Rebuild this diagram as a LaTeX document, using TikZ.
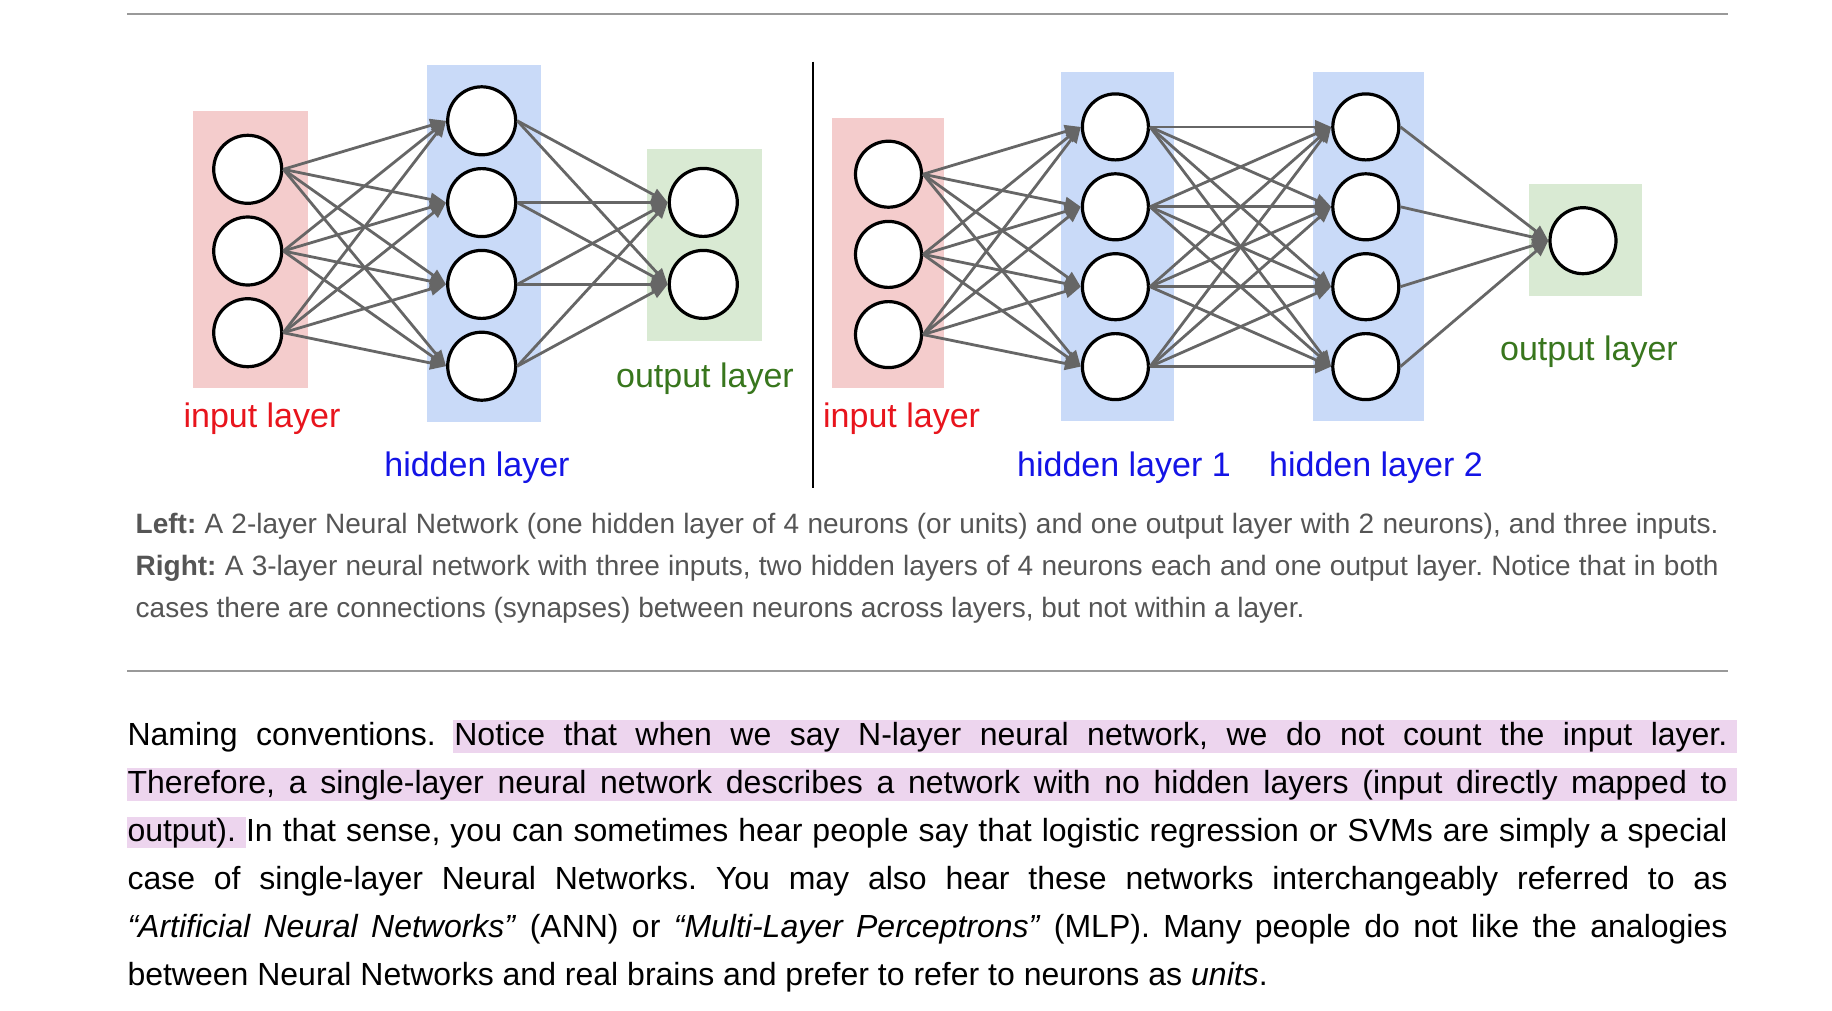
\documentclass[tikz,border=0pt]{standalone}
\usepackage{fontspec}
\setmainfont{Liberation Sans}
\usetikzlibrary{arrows.meta}
\definecolor{inbox}{HTML}{F4CCCC}
\definecolor{hidbox}{HTML}{C9DAF8}
\definecolor{outbox}{HTML}{D9EAD3}
\definecolor{edgegray}{HTML}{666666}
\definecolor{rulegray}{HTML}{999999}
\definecolor{capgray}{HTML}{555555}
\definecolor{hlpink}{HTML}{EDD5EE}
\definecolor{lblred}{HTML}{E8141C}
\definecolor{lblblue}{HTML}{1414E6}
\definecolor{lblgreen}{HTML}{38761D}
\frenchspacing
\begin{document}
\begin{tikzpicture}[x=1pt,y=-1pt,
  neuronL/.style={circle, draw=black, line width=3.2pt, fill=white, minimum size=68pt, inner sep=0pt},
  neuronR/.style={circle, draw=black, line width=3.2pt, fill=white, minimum size=66pt, inner sep=0pt},
  edge/.style={draw=edgegray, line width=2.8pt, -{Triangle[length=16pt,width=13pt]}},
  lbl/.style={anchor=base, inner sep=0pt, font=\fontsize{34}{40}\selectfont},
  capline/.style={anchor=base west, inner sep=0pt, text=capgray, font=\fontsize{28}{42}\selectfont\frenchspacing},
  parline/.style={anchor=base west, inner sep=0pt, text=black, font=\fontsize{32}{48}\selectfont\frenchspacing},
  hrule/.style={draw=rulegray, line width=2pt}]
\useasboundingbox (0,0) rectangle (1832,1010);
\fill[white] (0,0) rectangle (1832,1010);

% rules
\coordinate (r1a) at (127,14); \coordinate (r1b) at (1728,14);
\coordinate (r2a) at (127,671); \coordinate (r2b) at (1728,671);
\draw[hrule] (r1a) -- (r1b);
\draw[hrule] (r2a) -- (r2b);

% ---------- left network ----------
\fill[inbox] (193,111) rectangle (308,388);
\fill[hidbox] (426.7,65) rectangle (540.7,421.7);
\fill[outbox] (647,149) rectangle (762,341);

\node[neuronL] (Li1) at (247.7,169.3) {};
\node[neuronL] (Li2) at (247.7,251.0) {};
\node[neuronL] (Li3) at (247.7,332.7) {};
\node[neuronL] (Lh1) at (481.7,120.8) {};
\node[neuronL] (Lh2) at (481.7,202.6) {};
\node[neuronL] (Lh3) at (481.7,284.4) {};
\node[neuronL] (Lh4) at (481.7,366.2) {};
\node[neuronL] (Lo1) at (703.3,202.4) {};
\node[neuronL] (Lo2) at (703.3,284.4) {};

\foreach \i in {1,2,3} \foreach \j in {1,2,3,4} \draw[edge] (Li\i.east) -- (Lh\j.west);
\foreach \i in {1,2,3,4} \foreach \j in {1,2} \draw[edge] (Lh\i.east) -- (Lo\j.west);

\node[lbl, text=lblred] (Llin) at (262,427.7) {input layer};
\node[lbl, text=lblblue] (Llhid) at (477,476) {hidden layer};
\node[lbl, text=lblgreen] (Llout) at (705,387) {output layer};

% divider
\coordinate (dva) at (813,61.7); \coordinate (dvb) at (813,488);
\draw[black, line width=1.8pt] (dva) -- (dvb);

% ---------- right network ----------
\fill[inbox] (832.4,117.7) rectangle (944,388);
\fill[hidbox] (1061,71.7) rectangle (1173.6,421);
\fill[hidbox] (1313.2,71.7) rectangle (1424.2,421);
\fill[outbox] (1529.3,184) rectangle (1641.5,296);

\node[neuronR] (Ri1) at (888.5,174.2) {};
\node[neuronR] (Ri2) at (888.5,254.4) {};
\node[neuronR] (Ri3) at (888.5,334.6) {};
\foreach \k/\yy in {1/126.9,2/206.8,3/286.7,4/366.6} {
  \node[neuronR] (Ra\k) at (1115.4,\yy) {};
  \node[neuronR] (Rb\k) at (1365.8,\yy) {};
}
\node[neuronR] (Ro1) at (1583,240.7) {};

\foreach \i in {1,2,3} \foreach \j in {1,2,3,4} \draw[edge] (Ri\i.east) -- (Ra\j.west);
\foreach \i in {1,2,3,4} \foreach \j in {1,2,3,4} \draw[edge] (Ra\i.east) -- (Rb\j.west);
\foreach \i in {1,2,3,4} \draw[edge] (Rb\i.east) -- (Ro1.west);

\node[lbl, text=lblred] (Rlin) at (901.6,427.7) {input layer};
\node[lbl, text=lblblue] (Rlh1) at (1124,476.5) {hidden layer 1};
\node[lbl, text=lblblue] (Rlh2) at (1376,476.5) {hidden layer 2};
\node[lbl, text=lblgreen] (Rlout) at (1589,360) {output layer};

% ---------- caption ----------
\node[capline] (cap1) at (135.5,533) {\makebox[1583pt][s]{\textbf{Left:} A 2-layer Neural Network (one hidden layer of 4 neurons (or units) and one output layer with 2 neurons), and three inputs.}};
\node[capline] (cap2) at (135.5,575) {\makebox[1583pt][s]{\textbf{Right:} A 3-layer neural network with three inputs, two hidden layers of 4 neurons each and one output layer. Notice that in both}};
\node[capline] (cap3) at (135.5,617) {cases there are connections (synapses) between neurons across layers, but not within a layer.};

% ---------- paragraph ----------
\fill[hlpink] (453,720) rectangle (1737,752.7);
\fill[hlpink] (127,768) rectangle (1737,800.7);
\fill[hlpink] (127,816.7) rectangle (246,848.3);

\node[parline] (p1) at (127.3,745) {\makebox[1600pt][s]{Naming conventions. Notice that when we say N-layer neural network, we do not count the input layer.}};
\node[parline] (p2) at (127.3,793) {\makebox[1600pt][s]{Therefore, a single-layer neural network describes a network with no hidden layers (input directly mapped to}};
\node[parline] (p3) at (127.3,841) {\makebox[1600pt][s]{output). In that sense, you can sometimes hear people say that logistic regression or SVMs are simply a special}};
\node[parline] (p4) at (127.3,889) {\makebox[1600pt][s]{case of single-layer Neural Networks. You may also hear these networks interchangeably referred to as}};
\node[parline] (p5) at (127.3,937) {\makebox[1600pt][s]{\textit{“Artificial Neural Networks”} (ANN) or \textit{“Multi-Layer Perceptrons”} (MLP). Many people do not like the analogies}};
\node[parline] (p6) at (127.3,985) {between Neural Networks and real brains and prefer to refer to neurons as \textit{units}.};
\end{tikzpicture}
\end{document}
